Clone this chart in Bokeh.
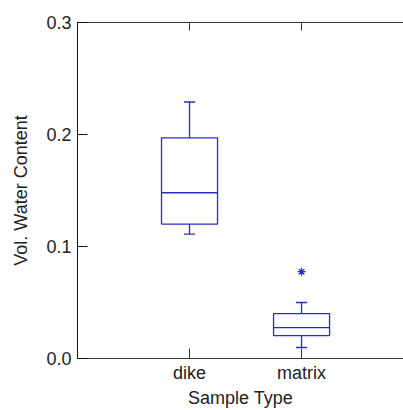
from bokeh.plotting import figure
from bokeh.models import Range1d, LinearAxis, FixedTicker, PrintfTickFormatter
from bokeh.embed import file_html
from bokeh.resources import INLINE

categories = ["dike", "matrix"]
positions = [1, 2]
lower_whisker = [0.111, 0.0098]
q1 = [0.120, 0.0205]
median = [0.148, 0.0276]
q3 = [0.197, 0.040]
upper_whisker = [0.229, 0.050]
outlier_pos = [2]
outlier_val = [0.0775]
y_ticks = [0.0, 0.1, 0.2, 0.3]

blue = "#2a2acc"
axis_col = "#333333"
text_col = "#222222"
font = "Liberation Sans"
fs = "18px"

p = figure(width=403, height=410, output_backend="svg", toolbar_location=None,
           x_range=Range1d(0, 2.91), y_range=Range1d(0, 0.3),
           x_axis_location=None, y_axis_location=None,
           min_border_left=77, min_border_right=0, min_border_top=22, min_border_bottom=51)
p.outline_line_color = None
p.grid.visible = False

# left axis
ya = LinearAxis(ticker=FixedTicker(ticks=y_ticks))
ya.formatter = PrintfTickFormatter(format="%.1f")
ya.major_tick_in = 10
ya.major_tick_out = 0
ya.minor_tick_line_color = None
ya.axis_line_color = "#111111"
ya.major_tick_line_color = "#111111"
ya.major_label_text_font = font
ya.major_label_text_font_size = fs
ya.major_label_text_color = text_col
ya.major_label_standoff = 6
ya.axis_label = "Vol. Water Content"
ya.axis_label_text_font = font
ya.axis_label_text_font_size = fs
ya.axis_label_text_font_style = "normal"
ya.axis_label_text_color = text_col
ya.axis_label_standoff = 12
p.add_layout(ya, "left")

# bottom axis
xa = LinearAxis(ticker=FixedTicker(ticks=positions))
xa.major_label_overrides = {pos: c for pos, c in zip(positions, categories)}
xa.major_tick_in = 10
xa.major_tick_out = 0
xa.minor_tick_line_color = None
xa.axis_line_color = axis_col
xa.major_tick_line_color = axis_col
xa.major_label_text_font = font
xa.major_label_text_font_size = fs
xa.major_label_text_color = text_col
xa.major_label_standoff = 4
xa.axis_label = "Sample Type"
xa.axis_label_text_font = font
xa.axis_label_text_font_size = fs
xa.axis_label_text_font_style = "normal"
xa.axis_label_text_color = text_col
xa.axis_label_standoff = 2
p.add_layout(xa, "below")

# top axis (ticks only)
ta = LinearAxis(ticker=FixedTicker(ticks=positions))
ta.major_label_overrides = {pos: "" for pos in positions}
ta.major_tick_in = 8
ta.major_tick_out = 0
ta.minor_tick_line_color = None
ta.axis_line_color = axis_col
ta.major_tick_line_color = axis_col
ta.major_label_standoff = 0
p.add_layout(ta, "above")

lw = 1.3
# boxes
p.vbar(x=positions, width=0.5, top=q3, bottom=q1, fill_color=None,
       line_color=blue, line_width=lw)
p.segment(x0=[x - 0.25 for x in positions], x1=[x + 0.25 for x in positions],
          y0=median, y1=median, line_color=blue, line_width=lw)
# whiskers
p.segment(x0=positions, x1=positions, y0=q3, y1=upper_whisker, line_color=blue, line_width=lw)
p.segment(x0=positions, x1=positions, y0=q1, y1=lower_whisker, line_color=blue, line_width=lw)
# caps
p.segment(x0=[x - 0.05 for x in positions], x1=[x + 0.05 for x in positions],
          y0=upper_whisker, y1=upper_whisker, line_color=blue, line_width=lw)
p.segment(x0=[x - 0.05 for x in positions], x1=[x + 0.05 for x in positions],
          y0=lower_whisker, y1=lower_whisker, line_color=blue, line_width=lw)
# outliers
p.scatter(x=outlier_pos, y=outlier_val, marker="asterisk", size=8,
          line_color=blue, line_width=1.2)

open("out.html", "w").write(file_html(p, INLINE))
